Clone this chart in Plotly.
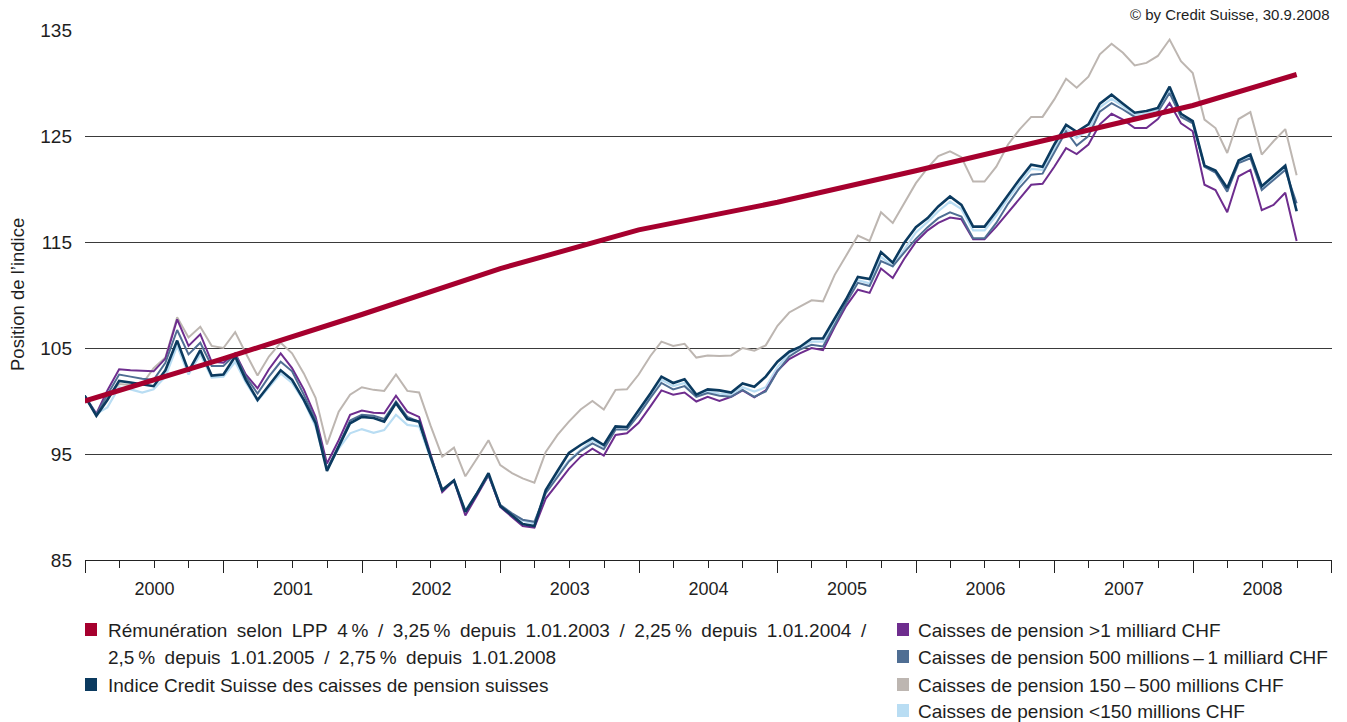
import pandas as pd
import plotly.graph_objects as go

# ---------------- data ----------------
months = pd.date_range("1999-12-31", periods=106, freq="ME")

lpp_dates = ["1999-12-31", "2000-12-31", "2001-12-31", "2002-12-31", "2003-12-31",
             "2004-12-31", "2005-12-31", "2006-12-31", "2007-12-31", "2008-09-30"]
lpp_values = [100.0, 104.0, 108.16, 112.49, 116.14, 118.75, 121.72, 124.76, 127.88, 130.8]

cs_index = [100.5, 98.6, 100.1, 101.9, 101.75, 101.6, 101.4, 102.9, 105.7, 102.8,
            104.8, 102.4, 102.5, 104.2, 102.0, 100.1, 101.5, 102.9, 102.0, 100.1,
            97.9, 93.4, 95.7, 97.9, 98.5, 98.4, 98.05, 99.8, 98.3, 98.05,
            94.75, 91.6, 92.5, 89.55, 91.3, 93.2, 90.1, 89.25, 88.4, 88.2,
            91.6, 93.4, 95.1, 95.85, 96.5, 95.85, 97.6, 97.55, 99.1, 100.7,
            102.3, 101.7, 102.05, 100.6, 101.1, 101.0, 100.8, 101.65, 101.35, 102.3,
            103.7, 104.65, 105.1, 105.9, 105.9, 107.8, 109.6, 111.7, 111.5, 114.05,
            113.05, 114.9, 116.4, 117.25, 118.35, 119.3, 118.5, 116.45, 116.45, 117.9,
            119.45, 120.9, 122.3, 122.1, 124.2, 126.05, 125.4, 126.1, 128.05, 128.9,
            128.05, 127.2, 127.35, 127.65, 129.65, 127.1, 126.4, 122.2, 121.75, 120.1,
            122.7, 123.25, 120.25, 121.2, 122.2, 117.9]

over_1bn = [100.5, 98.8, 101.0, 103.0, 102.9, 102.85, 102.8, 104.0, 107.7, 105.2,
            106.3, 103.7, 103.6, 104.5, 102.5, 101.2, 103.0, 104.5, 103.1, 101.1,
            98.5, 94.1, 96.3, 98.7, 99.1, 98.9, 98.85, 100.5, 99.0, 98.5,
            94.9, 91.4, 92.5, 89.2, 91.1, 93.0, 90.0, 89.1, 88.2, 88.05,
            90.8, 92.2, 93.6, 94.75, 95.5, 94.85, 96.8, 96.95, 97.95, 99.5,
            101.0, 100.6, 100.8, 99.95, 100.4, 100.0, 100.4, 101.0, 100.35, 101.0,
            102.85, 103.95, 104.5, 105.0, 104.8, 107.0, 108.95, 110.5, 110.2, 112.5,
            111.6, 113.4, 115.0, 116.1, 116.8, 117.3, 117.15, 115.25, 115.25, 116.45,
            117.8, 119.1, 120.4, 120.5, 122.1, 123.85, 123.3, 124.2, 126.1, 127.1,
            126.55, 125.75, 125.75, 126.6, 128.1, 126.2, 125.45, 120.4, 119.9, 117.8,
            121.2, 121.8, 118.0, 118.5, 119.65, 115.1]

m500_1bn = [100.5, 98.7, 100.6, 102.5, 102.3, 102.1, 102.0, 103.6, 106.7, 104.4,
            105.5, 103.3, 103.3, 104.4, 102.3, 100.7, 102.3, 103.7, 102.8, 100.6,
            98.2, 93.6, 95.8, 98.15, 98.7, 98.6, 98.3, 99.95, 98.5, 98.05,
            94.8, 91.6, 92.5, 89.55, 91.35, 93.0, 90.2, 89.4, 88.8, 88.6,
            91.3, 92.85, 94.3, 95.3, 96.0, 95.45, 97.3, 97.3, 98.7, 100.3,
            101.7, 101.1, 101.4, 100.4, 100.75, 100.5, 100.4, 101.05, 100.4, 100.9,
            102.8, 104.2, 104.85, 105.3, 105.15, 107.2, 109.25, 111.15, 110.85, 113.2,
            112.7, 114.0, 115.3, 116.4, 117.25, 117.8, 117.4, 115.35, 115.35, 116.8,
            118.6, 120.1, 121.35, 121.45, 123.4, 125.45, 124.1, 125.0, 127.3, 128.1,
            127.5, 126.8, 126.85, 127.25, 129.05, 126.8, 126.2, 122.1, 121.55, 119.75,
            122.45, 122.9, 119.9, 120.85, 121.8, 118.65]

m150_500 = [100.5, 98.7, 100.4, 101.6, 101.5, 101.6, 103.1, 104.1, 107.9, 106.0,
            107.0, 105.2, 105.0, 106.5, 104.5, 102.4, 104.2, 105.5, 104.5, 102.6,
            100.3, 95.9, 99.0, 100.6, 101.3, 101.05, 100.95, 102.5, 100.95, 100.8,
            97.7, 94.75, 95.6, 92.9, 94.6, 96.3, 93.95, 93.2, 92.7, 92.3,
            95.2, 96.8, 98.05, 99.2, 100.0, 99.2, 101.05, 101.1, 102.5, 104.25,
            105.6, 105.2, 105.4, 104.1, 104.3, 104.25, 104.3, 105.0, 104.75, 105.25,
            107.1, 108.35, 108.9, 109.5, 109.4, 111.9, 113.7, 115.6, 115.1, 117.8,
            116.8, 118.65, 120.55, 122.0, 123.1, 123.55, 123.0, 120.7, 120.7, 122.1,
            124.2, 125.6, 126.8, 126.8, 128.45, 130.4, 129.55, 130.6, 132.7, 133.7,
            132.85, 131.65, 131.9, 132.55, 134.1, 132.05, 130.95, 126.55, 125.75, 123.4,
            126.6, 127.25, 123.25, 124.5, 125.65, 121.3]

under_150 = [100.5, 98.8, 99.4, 101.3, 101.1, 100.8, 101.1, 102.3, 105.2, 102.5,
             104.4, 102.2, 102.3, 103.7, 101.75, 100.0, 101.3, 102.6, 101.7, 100.0,
             97.6, 93.6, 95.5, 96.95, 97.35, 97.0, 97.25, 98.7, 97.75, 97.6,
             94.6, 91.5, 92.5, 89.7, 91.3, 93.0, 90.1, 89.3, 88.7, 88.45,
             91.4, 93.0, 94.4, 95.4, 96.3, 95.7, 97.5, 97.5, 99.0, 100.5,
             102.0, 101.4, 101.7, 100.5, 100.9, 100.7, 100.6, 101.3, 100.9, 101.3,
             103.2, 104.5, 105.0, 105.6, 105.6, 107.5, 109.5, 111.4, 111.1, 113.6,
             112.7, 114.3, 115.9, 116.9, 117.9, 118.8, 118.1, 116.1, 116.1, 117.5,
             119.1, 120.5, 121.9, 121.8, 123.8, 125.7, 124.8, 125.6, 127.7, 128.5,
             127.8, 127.0, 127.1, 127.5, 129.3, 127.0, 126.3, 122.2, 121.6, 119.9,
             122.6, 123.1, 120.0, 121.0, 122.0, 118.0]

y_ticks = [85, 95, 105, 115, 125, 135]

# ---------------- styling ----------------
RED = "#A6002E"
NAVY = "#0B3A5F"
PURPLE = "#6E2D8E"
STEEL = "#4F6E93"
GRAY = "#BDB6B1"
LIGHT = "#B9DDF3"
TXT = "#1e1e1e"
FONT = "Liberation Sans, Arial, sans-serif"

W, H = 1347, 722
PL, PR, PT, PB = 85, 1332, 30, 560


def fx(px):
    return (px - PL) / (PR - PL)


def fy(py):
    return (PB - py) / (PB - PT)


fig = go.Figure()

series = [
    ("Caisses de pension 150–500 millions CHF", m150_500, GRAY, 2),
    ("Caisses de pension <150 millions CHF", under_150, LIGHT, 2.2),
    ("Caisses de pension >1 milliard CHF", over_1bn, PURPLE, 2),
    ("Caisses de pension 500 millions–1 milliard CHF", m500_1bn, STEEL, 2),
    ("Indice Credit Suisse des caisses de pension suisses", cs_index, NAVY, 2.6),
]
for name, vals, col, w in series:
    fig.add_trace(go.Scatter(x=months, y=vals, mode="lines", name=name,
                             line=dict(color=col, width=w), showlegend=False))

fig.add_trace(go.Scatter(x=pd.to_datetime(lpp_dates), y=lpp_values, mode="lines",
                         name="Rémunération selon LPP", line=dict(color=RED, width=5),
                         showlegend=False))

fig.update_layout(
    width=W, height=H,
    margin=dict(l=PL, r=W - PR, t=PT, b=H - PB, pad=0),
    paper_bgcolor="white", plot_bgcolor="white",
    font=dict(family=FONT, size=18, color=TXT),
    showlegend=False,
)

fig.update_xaxes(
    type="date",
    range=["2000-01-01", "2009-01-01 06:00"],
    tick0="2000-01-01", dtick="M12",
    ticklabelmode="period", tickformat="%Y",
    ticks="outside", ticklen=12, tickwidth=1, tickcolor="#222",
    minor=dict(dtick="M3", tick0="2000-01-01", ticks="outside", ticklen=7,
               tickwidth=1, tickcolor="#222", showgrid=False),
    showline=True, linecolor="#222", linewidth=1,
    showgrid=False, zeroline=False,
    tickfont=dict(size=18, color=TXT),
)

fig.update_yaxes(
    range=[85, 135], tickvals=y_ticks,
    showgrid=True, gridcolor="#3a3a3a", gridwidth=1,
    zeroline=False, showline=False, ticks="",
    ticklabelstandoff=12,
    tickfont=dict(size=19, color=TXT),
)

ann = []
ann.append(dict(text="Position de l’indice", x=fx(17), y=0.5, xref="paper", yref="paper",
                textangle=-90, showarrow=False, font=dict(size=18.5, color=TXT),
                xanchor="center", yanchor="middle"))
ann.append(dict(text="© by Credit Suisse, 30.9.2008", x=1.0, y=fy(14),
                xref="paper", yref="paper", showarrow=False, xanchor="right",
                yanchor="middle", font=dict(size=15, color=TXT)))

sp = "\u2009"   # thin space
ws = "\u2002"   # en space (wider word spacing of the original typeface)
line1 = ws.join(["Rémunération", "selon", "LPP", f"4{sp}%", "/", f"3,25{sp}%", "depuis",
                 "1.01.2003", "/", f"2,25{sp}%", "depuis", "1.01.2004", "/"])
line2 = ws.join([f"2,5{sp}%", "depuis", "1.01.2005", "/", f"2,75{sp}%", "depuis", "1.01.2008"])

legend_left = [
    (RED, 630, line1),
    (None, 657, line2),
    (NAVY, 685, "Indice Credit Suisse des caisses de pension suisses"),
]
legend_right = [
    (PURPLE, 630, "Caisses de pension >1 milliard CHF"),
    (STEEL, 657, f"Caisses de pension 500 millions{sp}–{sp}1 milliard CHF"),
    (GRAY, 685, f"Caisses de pension 150{sp}–{sp}500 millions CHF"),
    (LIGHT, 711, "Caisses de pension <150 millions CHF"),
]
shapes = []
for items, sx, tx in [(legend_left, 85, 106), (legend_right, 897, 916)]:
    for col, py, text in items:
        if col is not None:
            shapes.append(dict(type="rect", xref="paper", yref="paper",
                               x0=fx(sx), x1=fx(sx + 12), y0=fy(py + 6), y1=fy(py - 7),
                               fillcolor=col, line=dict(width=0)))
        ann.append(dict(text=text, x=fx(tx), y=fy(py), xref="paper", yref="paper",
                        showarrow=False, xanchor="left", yanchor="middle",
                        font=dict(size=19, color=TXT)))

fig.update_layout(annotations=ann, shapes=shapes)

fig.write_html("out.html")
